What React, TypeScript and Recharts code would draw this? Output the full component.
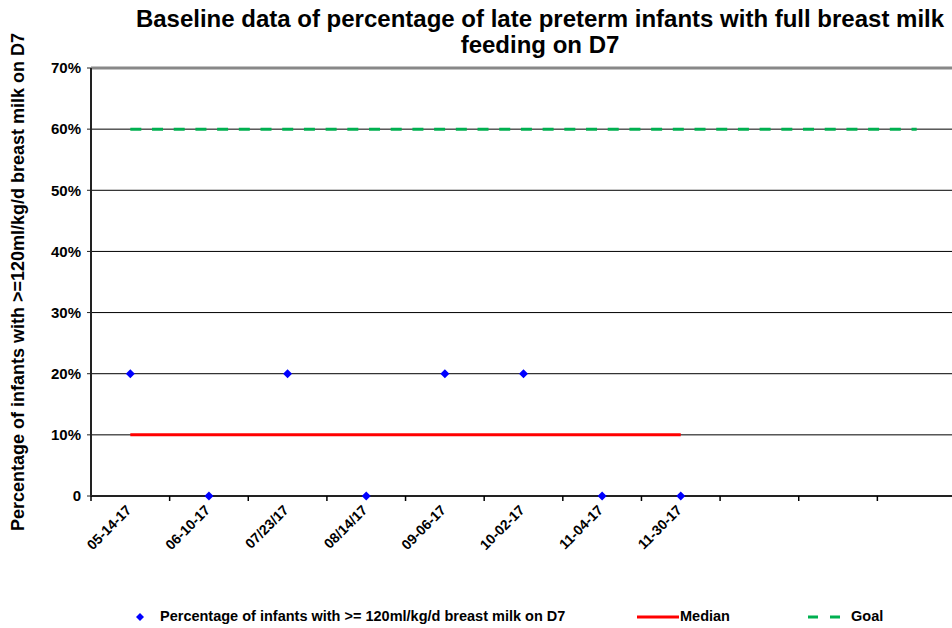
import React from "react";
import {
  ComposedChart,
  Line,
  XAxis,
  YAxis,
  CartesianGrid,
  ReferenceLine,
} from "recharts";

const categories = [
  "05-14-17",
  "06-10-17",
  "07/23/17",
  "08/14/17",
  "09-06-17",
  "10-02-17",
  "11-04-17",
  "11-30-17",
  "",
  "",
  "",
];
const percentValues: (number | null)[] = [20, 0, 20, 0, 20, 20, 0, 0, null, null, null];
const medianValues: (number | null)[] = [10, 10, 10, 10, 10, 10, 10, 10, null, null, null];
const goalValues: number[] = [60, 60, 60, 60, 60, 60, 60, 60, 60, 60, 60];
const yTicks = [0, 10, 20, 30, 40, 50, 60, 70];

const data = categories.map((c, i) => ({
  key: `c${i}`,
  label: c,
  pct: percentValues[i],
  median: medianValues[i],
  goal: goalValues[i],
}));

const FONT = "'Liberation Sans', Arial, sans-serif";

const Diamond = (props: any) => {
  const { cx, cy, value } = props;
  if (value === null || value === undefined || cy == null || isNaN(cy)) return <g key={props.key} />;
  const r = 4.5;
  return (
    <path
      key={props.key}
      d={`M${cx},${cy - r}L${cx + r},${cy}L${cx},${cy + r}L${cx - r},${cy}Z`}
      fill="#0000FF"
    />
  );
};

const XTick = (props: any) => {
  const { x, y, payload } = props;
  const off = payload.offset || 0;
  const label = categories[payload.index] ?? "";
  const ax = x + 2;
  const ay = y + 15;
  return (
    <g>
      <line x1={x - off} y1={y} x2={x - off} y2={y + 5} stroke="#000" strokeWidth={1.5} />
      {label ? (
        <text
          x={ax}
          y={ay}
          transform={`rotate(-45 ${ax} ${ay})`}
          textAnchor="end"
          fontFamily={FONT}
          fontWeight="bold"
          fontSize={14}
          fill="#000"
        >
          {label}
        </text>
      ) : null}
    </g>
  );
};

const YLabel = (props: any) => {
  const vb = props.viewBox || {};
  const cy = vb.y + vb.height / 2;
  return (
    <text
      x={18}
      y={cy}
      transform={`rotate(-90 18 ${cy})`}
      textAnchor="middle"
      dominantBaseline="central"
      fontFamily={FONT}
      fontWeight="bold"
      fontSize={18}
      fill="#000"
    >
      {"Percentage of infants with >=120ml/kg/d breast milk on D7"}
    </text>
  );
};

export default function App() {
  return (
    <div
      style={{
        position: "absolute",
        left: 0,
        top: 0,
        width: 952,
        height: 628,
        overflow: "hidden",
        background: "#fff",
        fontFamily: FONT,
      }}
    >
      <div
        style={{
          position: "absolute",
          left: 80,
          width: 920,
          top: 6,
          textAlign: "center",
          fontWeight: "bold",
          fontSize: 24,
          lineHeight: "26px",
          color: "#000",
        }}
      >
        Baseline data of percentage of late preterm infants with full breast milk
        <br />
        feeding on D7
      </div>
      <ComposedChart
        width={960}
        height={628}
        data={data}
        margin={{ top: 68, right: 4, left: 0, bottom: 32 }}
      >
        <CartesianGrid vertical={false} stroke="#000" strokeWidth={1} />
        <XAxis
          dataKey="key"
          type="category"
          scale="band"
          height={100}
          tickLine={false}
          tickSize={0}
          tickMargin={0}
          interval={0}
          axisLine={{ stroke: "#222", strokeWidth: 2 }}
          tick={<XTick />}
        />
        <YAxis
          width={91}
          domain={[0, 70]}
          ticks={yTicks}
          interval={0}
          tickSize={4}
          tickMargin={6}
          axisLine={{ stroke: "#222", strokeWidth: 2 }}
          tickLine={{ stroke: "#222" }}
          tickFormatter={(v: number) => (v === 0 ? "0" : `${v}%`)}
          tick={{ fill: "#000", fontFamily: FONT, fontWeight: "bold", fontSize: 15 }}
          label={<YLabel />}
        />
        <ReferenceLine y={70} stroke="#888" strokeWidth={3} />
        <Line
          dataKey="goal"
          stroke="#00B050"
          strokeWidth={3}
          strokeDasharray="11 10.7"
          dot={false}
          isAnimationActive={false}
        />
        <Line
          dataKey="median"
          stroke="#FF0000"
          strokeWidth={3}
          dot={false}
          isAnimationActive={false}
        />
        <Line
          dataKey="pct"
          stroke="none"
          dot={<Diamond />}
          activeDot={false}
          isAnimationActive={false}
        />
      </ComposedChart>
      <div
        style={{
          position: "absolute",
          top: 608,
          left: 0,
          width: 952,
          height: 18,
          fontWeight: "bold",
          fontSize: 14.5,
          color: "#000",
        }}
      >
        <svg style={{ position: "absolute", left: 135, top: 4 }} width={10} height={10}>
          <path d="M5,1L9,5L5,9L1,5Z" fill="#0000FF" />
        </svg>
        <span style={{ position: "absolute", left: 160, top: 0, whiteSpace: "nowrap" }}>
          {"Percentage of infants with >= 120ml/kg/d breast milk on D7"}
        </span>
        <svg style={{ position: "absolute", left: 637, top: 7 }} width={42} height={4}>
          <line x1={0} y1={2} x2={42} y2={2} stroke="#FF0000" strokeWidth={3} />
        </svg>
        <span style={{ position: "absolute", left: 680, top: 0, whiteSpace: "nowrap" }}>Median</span>
        <svg style={{ position: "absolute", left: 808, top: 7 }} width={34} height={4}>
          <line x1={0} y1={2} x2={34} y2={2} stroke="#00B050" strokeWidth={3} strokeDasharray="10 12" />
        </svg>
        <span style={{ position: "absolute", left: 851, top: 0, whiteSpace: "nowrap" }}>Goal</span>
      </div>
    </div>
  );
}
